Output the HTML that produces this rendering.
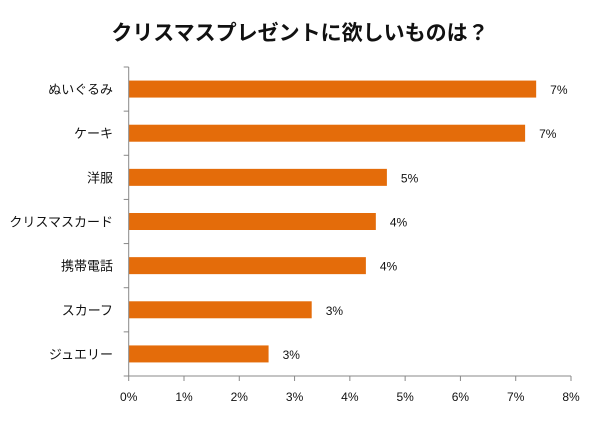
<!DOCTYPE html>
<html><head><meta charset="utf-8">
<style>
body{margin:0;background:#fff;}
svg text{font-family:"Liberation Sans","Noto Sans CJK JP",sans-serif;}
</style></head>
<body>
<svg id="c" width="600" height="416">
<text x="300" y="40" text-anchor="middle" font-size="21" font-weight="bold" fill="#111">クリスマスプレゼントに欲しいものは？</text>
<g id="plot"></g>
</svg>
<script>
const categories=["ぬいぐるみ","ケーキ","洋服","クリスマスカード","携帯電話","スカーフ","ジュエリー"];
const values=[7.37,7.17,4.67,4.47,4.29,3.31,2.53];
const valueLabels=["7%","7%","5%","4%","4%","3%","3%"];
const ticks=[0,1,2,3,4,5,6,7,8];
const tickLabels=["0%","1%","2%","3%","4%","5%","6%","7%","8%"];
const ns="http://www.w3.org/2000/svg";
const g=document.getElementById('plot');
const x0=128.7,x1=571,yTop=67,yBot=376;
const xs=v=>x0+(v/8)*(x1-x0);
const band=(yBot-yTop)/categories.length;
const yc=i=>yTop+band*(i+0.5);
function mk(t,a){const e=document.createElementNS(ns,t);for(const k in a)e.setAttribute(k,a[k]);g.appendChild(e);return e;}
categories.forEach((c,i)=>{
  const b=mk('rect',{x:xs(0),y:yc(i)-8.5,width:xs(values[i])-xs(0),height:17,fill:'#E46C0A'});
  
  
  const l=mk('text',{x:xs(values[i])+14,y:yc(i)+5,'font-size':12,fill:'#111'});
  l.textContent=valueLabels[i];
  
  
  const cl=mk('text',{x:113,y:yc(i)+5,'text-anchor':'end','font-size':13,fill:'#111'});
  cl.textContent=c;
  
  
});
for(let i=0;i<=categories.length;i++){
  const t=mk('line',{x1:x0-5,x2:x0,y1:yTop+band*i,y2:yTop+band*i,stroke:'#888'});
  
  
}
const ya=mk('line',{x1:x0,x2:x0,y1:yTop,y2:yBot,stroke:'#888'});


const xa=mk('line',{x1:x0,x2:x1,y1:yBot,y2:yBot,stroke:'#888'});


ticks.forEach((v,i)=>{
  const t=mk('line',{x1:xs(v),x2:xs(v),y1:yBot,y2:yBot+5,stroke:'#888'});
  
  
  const l=mk('text',{x:xs(v),y:yBot+25,'text-anchor':'middle','font-size':12,fill:'#111'});
  l.textContent=tickLabels[i];
  
  
});
</script>
</body></html>
